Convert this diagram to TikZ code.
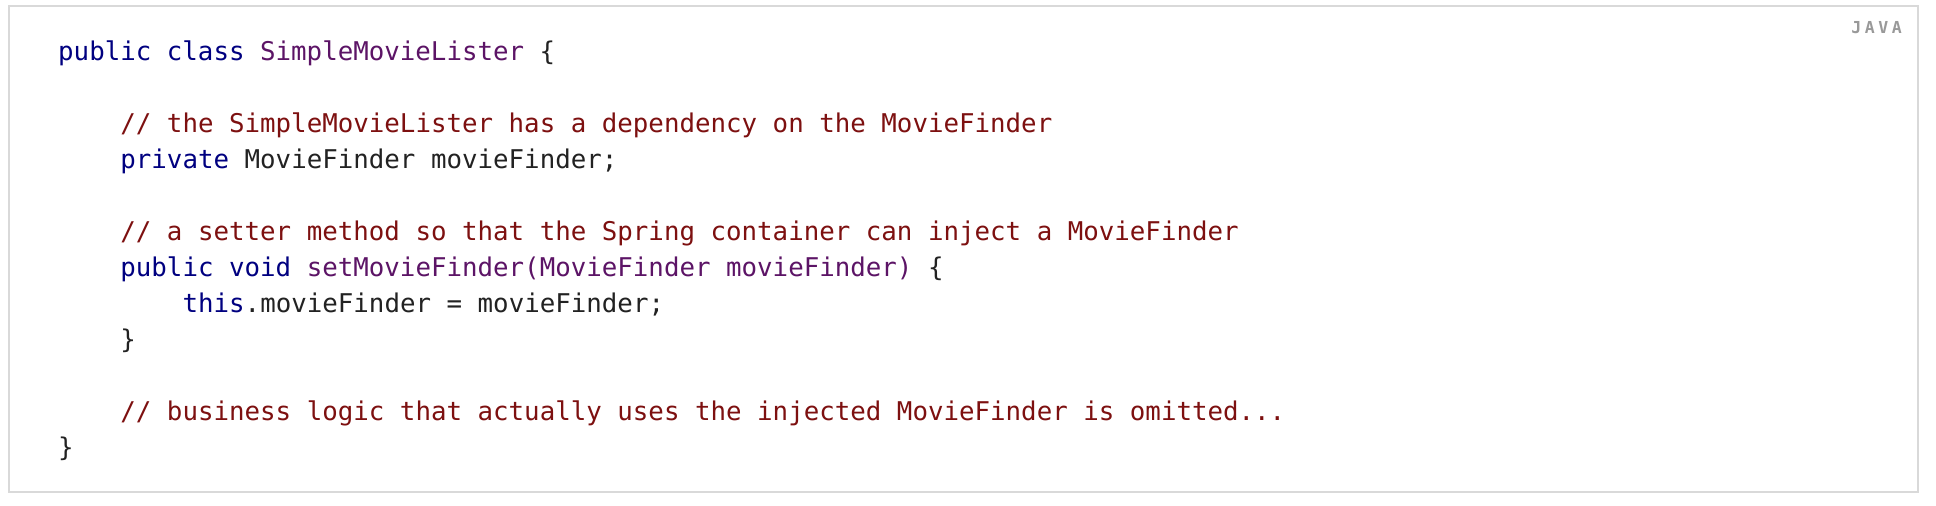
\documentclass[tikz,border=0pt]{standalone}
\usepackage{fontspec}
\setmonofont{DejaVu Sans Mono}
\definecolor{kw}{HTML}{000080}
\definecolor{ti}{HTML}{5C1466}
\definecolor{cm}{HTML}{7D1010}
\definecolor{pl}{HTML}{222222}
\definecolor{frm}{HTML}{D9D9D9}
\definecolor{lang}{HTML}{999999}
\newcommand{\kw}[1]{{\color{kw}#1}}
\newcommand{\ti}[1]{{\color{ti}#1}}
\newcommand{\cm}[1]{{\color{cm}#1}}
\begin{document}
\begin{tikzpicture}[x=1pt,y=1pt,
  code/.style={anchor=base west, inner sep=0pt, text=pl, font=\fontsize{25.8}{30}\selectfont\ttfamily},
  frame/.style={draw=frm, line width=2pt},
  langlabel/.style={anchor=base east, inner sep=0pt, text=lang, font=\fontsize{16.5}{18}\selectfont\ttfamily\bfseries}]
\useasboundingbox (0,0) rectangle (1936,506);
\fill[white] (0,0) rectangle (1936,506);
\node[frame, rectangle, minimum width=1909pt, minimum height=486pt, anchor=south west, inner sep=0pt] (box) at (8,13) {};
\node[langlabel] (lang) at (1902,472) {J\hspace{3.6pt}A\hspace{3.6pt}V\hspace{3.6pt}A};
\node[code] (l1) at (58,445) {\kw{public class} \ti{SimpleMovieLister} \{};
\node[code] (l3) at (120.2,373) {\cm{// the SimpleMovieLister has a dependency on the MovieFinder}};
\node[code] (l4) at (120.2,337) {\kw{private} MovieFinder movieFinder;};
\node[code] (l6) at (120.2,265) {\cm{// a setter method so that the Spring container can inject a MovieFinder}};
\node[code] (l7) at (120.2,229) {\kw{public void} \ti{setMovieFinder(MovieFinder movieFinder)} \{};
\node[code] (l8) at (182.4,193) {\kw{this}.movieFinder = movieFinder;};
\node[code] (l9) at (120.2,157) {\}};
\node[code] (l11) at (120.2,85) {\cm{// business logic that actually uses the injected MovieFinder is omitted...}};
\node[code] (l12) at (58,49) {\}};
\end{tikzpicture}
\end{document}
